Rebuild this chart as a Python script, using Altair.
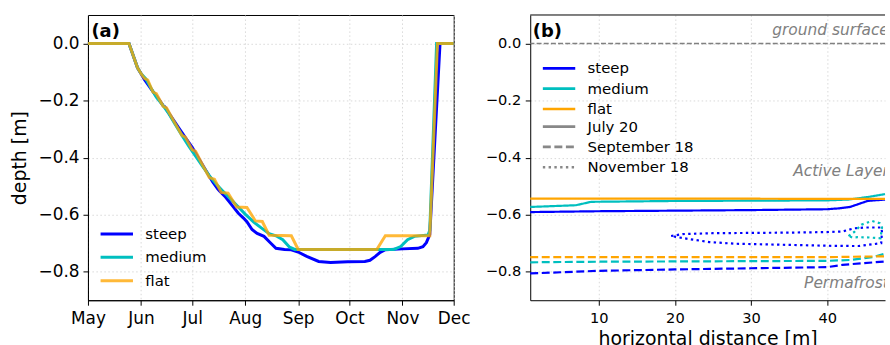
import altair as alt
import pandas as pd

FONT = "DejaVu Sans"

series = ["steep", "medium", "flat"]
colors_a = ["#0000ff", "#00bfbf", "rgba(255,165,0,0.78)"]
colors_b = ["#0000ff", "#00bfbf", "#ffa500"]

# ---------------- panel (a): thaw depth through the season ----------------
steep_dates = ["2019-05-01", "2019-05-25", "2019-05-30", "2019-06-01", "2019-06-03", "2019-06-07",
               "2019-06-12", "2019-06-14", "2019-06-15", "2019-06-18", "2019-06-23", "2019-06-27",
               "2019-07-01", "2019-07-05", "2019-07-09", "2019-07-13", "2019-07-16", "2019-07-17",
               "2019-07-20", "2019-07-24", "2019-07-28", "2019-07-31", "2019-08-02", "2019-08-05",
               "2019-08-08", "2019-08-12", "2019-08-16", "2019-08-19", "2019-08-24", "2019-08-28",
               "2019-09-01", "2019-09-06", "2019-09-13", "2019-09-20", "2019-09-30", "2019-10-10",
               "2019-10-13", "2019-10-16", "2019-10-19", "2019-10-22", "2019-11-01", "2019-11-10",
               "2019-11-13", "2019-11-15", "2019-11-17", "2019-11-23", "2019-12-01"]
steep_depth = [0.0, 0.0, -0.085, -0.105, -0.126, -0.160,
               -0.200, -0.218, -0.222, -0.250, -0.295, -0.330,
               -0.364, -0.405, -0.445, -0.485, -0.510, -0.517,
               -0.535, -0.565, -0.595, -0.612, -0.625, -0.652,
               -0.666, -0.676, -0.700, -0.718, -0.722, -0.723,
               -0.731, -0.746, -0.764, -0.768, -0.765, -0.764,
               -0.760, -0.747, -0.732, -0.723, -0.720, -0.718,
               -0.712, -0.698, -0.670, 0.0, 0.0]

medium_dates = ["2019-05-01", "2019-05-25", "2019-05-30", "2019-06-01", "2019-06-04", "2019-06-07",
                "2019-06-10", "2019-06-14", "2019-06-17", "2019-06-21", "2019-06-25", "2019-06-29",
                "2019-07-03", "2019-07-07", "2019-07-11", "2019-07-15", "2019-07-19", "2019-07-23",
                "2019-07-27", "2019-08-01", "2019-08-06", "2019-08-11", "2019-08-15", "2019-08-19",
                "2019-08-23", "2019-08-27", "2019-08-30", "2019-10-27", "2019-10-31", "2019-11-04",
                "2019-11-08", "2019-11-16", "2019-11-17", "2019-11-21", "2019-12-01"]
medium_depth = [0.0, 0.0, -0.085, -0.105, -0.125, -0.158,
                -0.188, -0.218, -0.243, -0.283, -0.322, -0.360,
                -0.395, -0.430, -0.463, -0.493, -0.518, -0.542,
                -0.567, -0.598, -0.626, -0.649, -0.667, -0.674,
                -0.688, -0.714, -0.722, -0.722, -0.712, -0.688,
                -0.676, -0.671, -0.655, 0.0, 0.0]

flat_dates = ["2019-05-01", "2019-05-25", "2019-05-30", "2019-06-01", "2019-06-03", "2019-06-05",
              "2019-06-08", "2019-06-10", "2019-06-14", "2019-06-16", "2019-06-21", "2019-06-25",
              "2019-06-27", "2019-07-01", "2019-07-03", "2019-07-07", "2019-07-11", "2019-07-14",
              "2019-07-18", "2019-07-22", "2019-07-27", "2019-08-02", "2019-08-07", "2019-08-11",
              "2019-08-15", "2019-08-28", "2019-09-01", "2019-10-17", "2019-10-22", "2019-11-17",
              "2019-11-21T12:00:00Z", "2019-12-01"]
flat_depth = [0.0, 0.0, -0.085, -0.105, -0.122, -0.128,
              -0.170, -0.176, -0.220, -0.226, -0.280, -0.322,
              -0.328, -0.372, -0.378, -0.425, -0.470, -0.476,
              -0.522, -0.525, -0.573, -0.575, -0.622, -0.624,
              -0.672, -0.674, -0.722, -0.722, -0.674, -0.674,
              0.0, 0.0]

depth_ticks = [0.0, -0.2, -0.4, -0.6, -0.8]
month_ticks = [5, 6, 7, 8, 9, 10, 11, 12]

# ---------------- panel (b): thaw front along the slope ----------------
dates_b = ["July 20", "September 18", "November 18"]
dashes_b = [[1, 0], [8, 3.6], [2.4, 3.4]]

b_steep_jul_x = [1, 10, 20, 30, 40, 41.5, 43, 45.3, 47.6]
b_steep_jul_y = [-0.591, -0.588, -0.586, -0.584, -0.581, -0.578, -0.573, -0.552, -0.547]
b_medium_jul_x = [1, 7, 9, 20, 30, 40, 42.8, 45.4, 47.6]
b_medium_jul_y = [-0.573, -0.567, -0.555, -0.552, -0.551, -0.550, -0.547, -0.538, -0.528]
b_flat_jul_x = [1, 10, 20, 30, 40, 47.6]
b_flat_jul_y = [-0.544, -0.544, -0.544, -0.544, -0.545, -0.545]

b_steep_sep_x = [1, 5, 10, 20, 30, 40, 42, 47.6]
b_steep_sep_y = [-0.806, -0.802, -0.797, -0.792, -0.788, -0.784, -0.776, -0.764]
b_medium_sep_x = [1, 10, 20, 30, 40, 43, 45.9, 47.6]
b_medium_sep_y = [-0.767, -0.765, -0.764, -0.763, -0.762, -0.759, -0.749, -0.737]
b_flat_sep_x = [1, 20, 40, 47.6]
b_flat_sep_y = [-0.749, -0.749, -0.749, -0.746]

b_steep_nov_x = [19.5, 21, 25, 30, 35, 40, 42, 43.5, 45, 47.1, 47.2, 47.1, 44.1, 40, 33.3, 28, 24.5, 21, 19.5]
b_steep_nov_y = [-0.675, -0.668, -0.665, -0.664, -0.663, -0.661, -0.659, -0.648, -0.645, -0.645,
                 -0.660, -0.700, -0.710, -0.709, -0.705, -0.702, -0.696, -0.682, -0.675]
b_medium_nov_x = [42.8, 43.6, 44.5, 45.9, 46.9, 47.2, 47.1, 47.0, 45.5, 44.0, 43.3, 42.8]
b_medium_nov_y = [-0.675, -0.660, -0.635, -0.622, -0.630, -0.645, -0.665, -0.683, -0.680, -0.679, -0.680, -0.675]

ground_level = [0.0]
ann_labels = ["ground surface", "Active Layer", "Permafrost"]
ann_x = [48.1, 48.1, 48.1]
ann_y = [0.031, -0.464, -0.856]

# ---------------- tables ----------------
rows_a = []
for name, ds, vs in [("steep", steep_dates, steep_depth),
                     ("medium", medium_dates, medium_depth),
                     ("flat", flat_dates, flat_depth)]:
    for d, v in zip(ds, vs):
        rows_a.append({"series": name, "date": d, "depth": v})
data_a = pd.DataFrame(rows_a)

rows_b = []
for name, when, xs, ys in [
    ("steep", "July 20", b_steep_jul_x, b_steep_jul_y),
    ("medium", "July 20", b_medium_jul_x, b_medium_jul_y),
    ("flat", "July 20", b_flat_jul_x, b_flat_jul_y),
    ("steep", "September 18", b_steep_sep_x, b_steep_sep_y),
    ("medium", "September 18", b_medium_sep_x, b_medium_sep_y),
    ("flat", "September 18", b_flat_sep_x, b_flat_sep_y),
    ("steep", "November 18", b_steep_nov_x, b_steep_nov_y),
    ("medium", "November 18", b_medium_nov_x, b_medium_nov_y),
]:
    for i, (xv, yv) in enumerate(zip(xs, ys)):
        rows_b.append({"series": name, "when": when, "x": xv, "y": yv, "i": i})
data_b = pd.DataFrame(rows_b)

ann_df = pd.DataFrame({"label": ann_labels, "x": ann_x, "y": ann_y})
ground_df = pd.DataFrame({"y": ground_level})

# ---------------- common ----------------
W_A, W_B, H = 368, 357, 287
y_scale = alt.Scale(domain=[-0.9, 0.1], nice=False, zero=False)
sym_path = "M-3.26,0L3.26,0"

# ---------------- panel (a) ----------------
x_a = alt.X("date:T",
            scale=alt.Scale(type="utc",
                            domain=[alt.DateTime(year=2019, month=5, date=1, utc=True),
                                    alt.DateTime(year=2019, month=12, date=1, utc=True)]),
            axis=alt.Axis(values=[alt.DateTime(year=2019, month=m, date=1, utc=True) for m in month_ticks],
                          format="%b", title=None, labelFontSize=17, labelPadding=5,
                          labelFlush=False, labelOverlap=False))
y_a = alt.Y("depth:Q", scale=y_scale,
            axis=alt.Axis(values=depth_ticks, format=".1f", title="depth [m]",
                          labelFontSize=17, labelPadding=4, titleFontSize=19, titlePadding=9,
                          labelFlush=False))

lines_a = alt.Chart(data_a).mark_line(strokeWidth=3).encode(
    x=x_a, y=y_a,
    color=alt.Color("series:N", scale=alt.Scale(domain=series, range=colors_a),
                    legend=alt.Legend(title=None, orient="none", legendX=21.5, legendY=212.8,
                                      symbolType=sym_path, symbolSize=100, symbolStrokeWidth=3,
                                      labelOffset=21.2, rowPadding=7.5, labelFontSize=15,
                                      labelFont=FONT, labelColor="black", padding=0)),
)
tag_a = alt.Chart(pd.DataFrame({"t": ["(a)"]})).mark_text(
    align="left", baseline="alphabetic", fontSize=18, fontWeight="bold", font=FONT, color="black"
).encode(x=alt.value(3.5), y=alt.value(22), text="t:N")

panel_a = alt.layer(lines_a, tag_a).properties(width=W_A, height=H)

# ---------------- panel (b) ----------------
x_b = alt.X("x:Q", scale=alt.Scale(domain=[1, 47.6], nice=False, zero=False),
            axis=alt.Axis(values=[10, 20, 30, 40], title="horizontal distance [m]",
                          labelFontSize=14.7, labelPadding=5, titleFontSize=19, titlePadding=4.5,
                          labelFlush=False))
y_b = alt.Y("y:Q", scale=y_scale,
            axis=alt.Axis(values=depth_ticks, format=".1f", title=None,
                          labelFontSize=14.7, labelPadding=4.5, labelFlush=False))

ground_b = alt.Chart(ground_df).mark_rule(color="gray", strokeWidth=1.4, strokeDash=[5, 2.2]).encode(y=y_b)

lines_b = alt.Chart(data_b).mark_line(strokeWidth=2.2).encode(
    x=x_b, y=y_b,
    color=alt.Color("series:N", scale=alt.Scale(domain=series, range=colors_b),
                    legend=alt.Legend(title=None, orient="none", legendX=21.5, legendY=46.2,
                                      symbolType=sym_path, symbolSize=100, symbolStrokeWidth=2.7,
                                      labelOffset=21.2, rowPadding=4.45, labelFontSize=15,
                                      labelFont=FONT, labelColor="black", padding=0)),
    strokeDash=alt.StrokeDash("when:N", scale=alt.Scale(domain=dates_b, range=dashes_b),
                              legend=alt.Legend(title=None, orient="none", legendX=21.5, legendY=104.8,
                                                symbolType=sym_path, symbolSize=100, symbolStrokeWidth=2.7,
                                                labelOffset=21.2, rowPadding=4.45, labelFontSize=15,
                                                labelFont=FONT, labelColor="black", padding=0)),
    order="i:Q",
)
ann_b = alt.Chart(ann_df).mark_text(
    align="right", baseline="alphabetic", fontSize=15.5, fontStyle="italic", font=FONT,
    color="gray", clip=True
).encode(x=x_b, y=y_b, text="label:N")

tag_b = alt.Chart(pd.DataFrame({"t": ["(b)"]})).mark_text(
    align="left", baseline="alphabetic", fontSize=18, fontWeight="bold", font=FONT, color="black"
).encode(x=alt.value(2.5), y=alt.value(22), text="t:N")

top_spine = alt.Chart(pd.DataFrame({"k": [0]})).mark_rule(color="black", strokeWidth=1).encode(
    x=alt.value(0), x2=alt.value(W_B), y=alt.value(0))

panel_b = alt.layer(ground_b, lines_b, ann_b, tag_b, top_spine).properties(
    width=W_B, height=H, view=alt.ViewBackground(stroke="transparent"))

chart = alt.hconcat(panel_a, panel_b, spacing=77, bounds="flush").resolve_scale(
    color="independent", strokeDash="independent"
).resolve_legend(color="independent", strokeDash="independent").properties(
    padding={"left": 9.5, "top": 13, "right": 0, "bottom": 0}
).configure(font=FONT).configure_axis(
    domainColor="black", tickColor="black", labelColor="black", titleColor="black",
    tickSize=5, tickWidth=1, domainWidth=1,
    gridColor="#d4d4d4", gridDash=[1.5, 2.5], gridWidth=0.9,
    labelFont=FONT, titleFont=FONT, titleFontWeight="normal"
).configure_view(stroke="black", strokeWidth=1)

chart.save("out.html", embed_options={"renderer": "svg", "actions": False})
